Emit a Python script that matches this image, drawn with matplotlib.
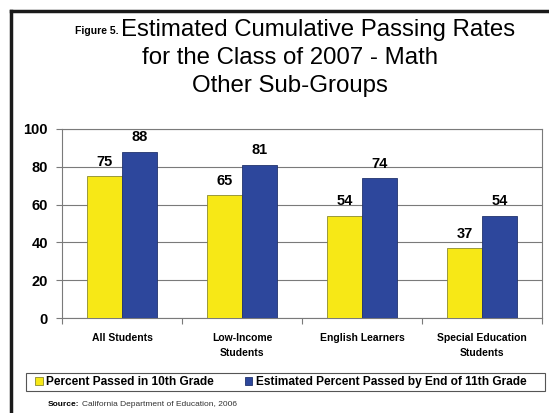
import matplotlib.pyplot as plt
import numpy as np
from matplotlib.patches import Patch
from matplotlib.lines import Line2D

plt.rcParams['font.family'] = ['Liberation Sans', 'DejaVu Sans']

# data
groups = ['All Students', 'Low-Income\nStudents', 'English Learners', 'Special Education\nStudents']
passed_10th = [75, 65, 54, 37]
passed_11th = [88, 81, 74, 54]
yticks = [0, 20, 40, 60, 80, 100]

yellow = '#F7E816'
blue = '#2D479C'

fig = plt.figure(figsize=(5.49, 4.13), dpi=100)
W, H = 549, 413

# plot area in pixels: x 62..542, y 129..318
ax = fig.add_axes([62 / W, 1 - 318 / H, 480 / W, (318 - 129) / H])

x = np.arange(len(groups))
bw = 0.29
ax.bar(x - bw / 2, passed_10th, bw, color=yellow, edgecolor='#8a8a30', linewidth=0.6, zorder=3)
ax.bar(x + bw / 2, passed_11th, bw, color=blue, edgecolor='#22336e', linewidth=0.6, zorder=3)

for i in range(len(groups)):
    ax.text(x[i] - bw / 2, passed_10th[i] + 4, str(passed_10th[i]), ha='center', va='bottom',
            fontsize=10.5, fontweight='bold')
    ax.text(x[i] + bw / 2, passed_11th[i] + 4, str(passed_11th[i]), ha='center', va='bottom',
            fontsize=10.5, fontweight='bold')

ax.set_xlim(-0.5, len(groups) - 0.5)
ax.set_ylim(0, 100)
ax.set_yticks(yticks)
ax.set_yticklabels([str(t) for t in yticks], fontsize=10.5, fontweight='bold')
ax.yaxis.grid(True, color='#7a7a7a', linewidth=0.8, zorder=0)
ax.set_axisbelow(True)

# category ticks sit on the group boundaries
ax.set_xticks(np.arange(len(groups) + 1) - 0.5)
ax.set_xticklabels([])
ax.set_xticks(x, minor=True)
ax.set_xticklabels(groups, minor=True, fontsize=7.5, fontweight='bold', linespacing=1.6)
ax.tick_params(axis='x', which='minor', length=0, pad=11)
ax.tick_params(axis='x', which='major', length=4, color='#7a7a7a')
ax.tick_params(axis='y', length=4, color='#7a7a7a', pad=6)
for s in ax.spines.values():
    s.set_color('#7a7a7a')
    s.set_linewidth(0.8)

# title
fig.text(119 / W, 1 - 31 / H, 'Figure 5.', ha='right', va='center', fontsize=7.5, fontweight='bold')
fig.text(121 / W, 1 - 30 / H, 'Estimated Cumulative Passing Rates', ha='left', va='center', fontsize=17.3)
fig.text(290 / W, 1 - 58 / H, 'for the Class of 2007 - Math', ha='center', va='center', fontsize=17.3)
fig.text(290 / W, 1 - 86 / H, 'Other Sub-Groups', ha='center', va='center', fontsize=17.3)

# legend
handles = [Patch(facecolor=yellow, edgecolor='#8a8a30', linewidth=0.6),
           Patch(facecolor=blue, edgecolor='#22336e', linewidth=0.6)]
labels = ['Percent Passed in 10th Grade', 'Estimated Percent Passed by End of 11th Grade']
leg = fig.legend(handles, labels, loc='center left', bbox_to_anchor=(27 / W, 1 - 382 / H),
                 ncol=2, frameon=False, handlelength=0.6, handleheight=0.6,
                 handletextpad=0.3, columnspacing=2.6, borderpad=0.2,
                 prop={'size': 8.6, 'weight': 'bold'})
fig.patches.append(plt.Rectangle((26 / W, 1 - 391 / H), (545 - 26) / W, 18 / H,
                                 transform=fig.transFigure, fill=False,
                                 edgecolor='#555555', linewidth=0.8))

# source
src = fig.text(48 / W, 1 - 405 / H, 'Source:', ha='left', va='center', fontsize=6, fontweight='bold')
fig.canvas.draw()
bb = src.get_window_extent()
fig.text((bb.x1 + 3) / fig.bbox.width, 1 - 405 / H, 'California Department of Education, 2006',
         ha='left', va='center', fontsize=6, color='#333333')

# black frame on top and left
fig.add_artist(Line2D([11 / W, 11 / W], [0, 1 - 11 / H], transform=fig.transFigure,
                      color='#1a1a1a', linewidth=2.5))
fig.add_artist(Line2D([11 / W, 1], [1 - 11 / H, 1 - 11 / H], transform=fig.transFigure,
                      color='#1a1a1a', linewidth=2.5))

fig.savefig('out.png', dpi=100)
